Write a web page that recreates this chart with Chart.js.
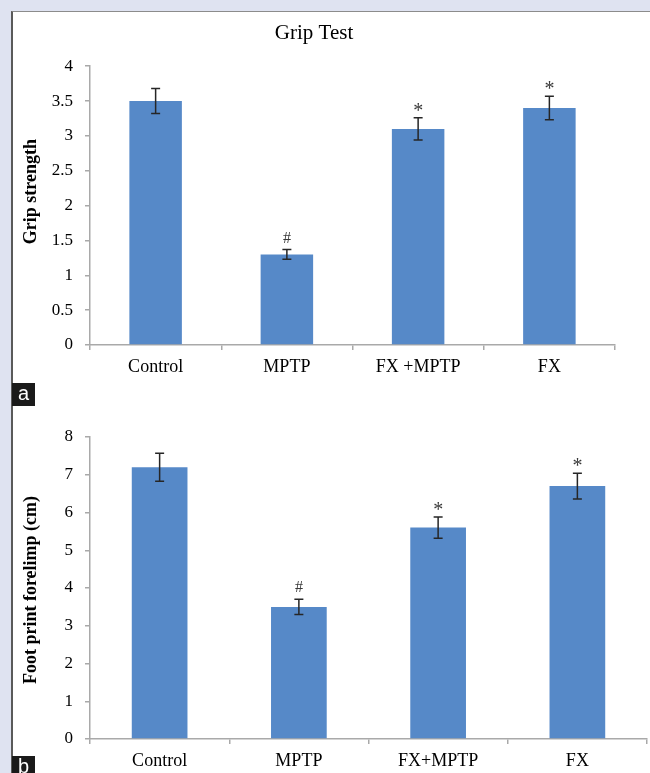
<!DOCTYPE html>
<html><head><meta charset="utf-8">
<script src="https://cdn.jsdelivr.net/npm/chart.js@4.4.0/dist/chart.umd.min.js"></script>
<style>
html,body{margin:0;padding:0;background:#dfe3f1;width:650px;height:773px;overflow:hidden;}
#panel{position:absolute;left:11px;top:11px;width:639px;height:762px;background:#fff;border-left:2px solid #5a5a5a;border-top:1px solid #8c8c8c;box-sizing:border-box;}
.wrap{position:absolute;}
.tag{position:absolute;left:12px;width:23px;height:23px;background:#1a1a1a;color:#fff;font:20px "Liberation Sans",Arial,sans-serif;line-height:21px;text-align:center;z-index:5;}
</style></head><body>
<div id="panel"></div>
<div class="wrap" style="left:13px;top:13px;width:604px;height:382px;"><canvas id="ca"></canvas></div>
<div class="wrap" style="left:13px;top:410px;width:637px;height:363px;"><canvas id="cb"></canvas></div>
<div class="tag" style="top:383px;">a</div>
<div class="tag" style="top:756px;">b</div>
<script>
// ---- Panel a: Grip Test ----
const gripCategories = ['Control', 'MPTP', 'FX +MPTP', 'FX'];
const gripValues = [3.5, 1.3, 3.1, 3.4];
const gripErrors = [0.18, 0.07, 0.16, 0.17];
const gripMarks = ['', '#', '*', '*'];
const gripTicks = ['0', '0.5', '1', '1.5', '2', '2.5', '3', '3.5', '4'];

// ---- Panel b: Foot print ----
const footCategories = ['Control', 'MPTP', 'FX+MPTP', 'FX'];
const footValues = [7.2, 3.5, 5.6, 6.7];
const footErrors = [0.37, 0.2, 0.28, 0.34];
const footMarks = ['', '#', '*', '*'];
const footTicks = ['0', '1', '2', '3', '4', '5', '6', '7', '8'];

const SERIF = '"Liberation Serif", "Times New Roman", serif';
const BAR = '#5689C8';
const AXIS = '#a9a9a9';

const errorPlugin = {
  id: 'errbars',
  afterDatasetsDraw(chart, args, opts) {
    const ctx = chart.ctx;
    const meta = chart.getDatasetMeta(0);
    const ys = chart.scales.y;
    const data = chart.data.datasets[0].data;
    ctx.save();
    meta.data.forEach((bar, i) => {
      const v = data[i], e = opts.errors[i];
      const x = bar.x;
      const yT = ys.getPixelForValue(v + e), yB = ys.getPixelForValue(v - e);
      ctx.strokeStyle = '#262626';
      ctx.lineWidth = 1.5;
      ctx.beginPath();
      ctx.moveTo(x, yT); ctx.lineTo(x, yB);
      ctx.moveTo(x - 4.5, yT); ctx.lineTo(x + 4.5, yT);
      ctx.moveTo(x - 4.5, yB); ctx.lineTo(x + 4.5, yB);
      ctx.stroke();
      const m = opts.marks[i];
      if (m) {
        ctx.fillStyle = '#3a3a3a';
        ctx.textAlign = 'center';
        ctx.textBaseline = 'alphabetic';
        if (m === '#') {
          ctx.font = '16px ' + SERIF;
          ctx.fillText(m, x, yT - 7);
        } else {
          ctx.font = '20px ' + SERIF;
          ctx.fillText(m, x, yT - 1);
        }
      }
    });
    ctx.restore();
  }
};

const yTitlePlugin = {
  id: 'ytitle',
  afterDraw(chart, args, opts) {
    const ctx = chart.ctx;
    const ca = chart.chartArea;
    ctx.save();
    ctx.translate(opts.x, (ca.top + ca.bottom) / 2 + opts.shift);
    ctx.rotate(-Math.PI / 2);
    ctx.font = 'bold 18px ' + SERIF;
    ctx.fillStyle = '#000';
    ctx.textAlign = 'center';
    ctx.textBaseline = 'middle';
    ctx.fillText(opts.text, 0, 0);
    ctx.restore();
  }
};

function makeChart(id, cats, vals, errs, marks, tickLabels, max, step, cfg) {
  return new Chart(document.getElementById(id), {
    type: 'bar',
    data: { labels: cats, datasets: [{ data: vals, backgroundColor: BAR, borderWidth: 0,
      barPercentage: 0.4, categoryPercentage: 1.0 }] },
    options: {
      responsive: true, maintainAspectRatio: false, animation: false, devicePixelRatio: 1,
      layout: { padding: cfg.padding },
      plugins: {
        legend: { display: false }, tooltip: { enabled: false },
        title: cfg.title,
        errbars: { errors: errs, marks: marks },
        ytitle: { text: cfg.ytitle, x: 18, shift: cfg.yshift }
      },
      scales: {
        x: {
          grid: { display: true, drawOnChartArea: false, drawTicks: true, tickLength: 5, color: AXIS, lineWidth: 1.5, offset: true },
          border: { display: true, color: AXIS, width: 1.5 },
          ticks: { color: '#000', font: { family: SERIF, size: 18 }, padding: 6, maxRotation: 0 },
          afterFit: (s) => { s.height = cfg.xh; }
        },
        y: {
          min: 0, max: max,
          grid: { display: true, drawOnChartArea: false, drawTicks: true, tickLength: 5, color: AXIS, lineWidth: 1.5 },
          border: { display: true, color: AXIS, width: 1.5 },
          ticks: { stepSize: step, color: '#000', font: { family: SERIF, size: 17 }, padding: 12,
            callback: (v, i) => tickLabels[i] },
          afterFit: (s) => { s.width = 77; }
        }
      }
    },
    plugins: [errorPlugin, yTitlePlugin]
  });
}

makeChart('ca', gripCategories, gripValues, gripErrors, gripMarks, gripTicks, 4, 0.5, {
  padding: { top: 0, right: 2, bottom: 0, left: 0 },
  title: { display: true, text: 'Grip Test', color: '#000', font: { family: SERIF, size: 21, weight: 'normal' }, padding: { top: 8, bottom: 20 } },
  ytitle: 'Grip strength', yshift: -14, xh: 50
});

makeChart('cb', footCategories, footValues, footErrors, footMarks, footTicks, 8, 1, {
  padding: { top: 27, right: 3, bottom: 0, left: 0 },
  title: { display: false },
  ytitle: 'Foot print forelimp (cm)', yshift: 2, xh: 34
});
</script>
</body></html>
